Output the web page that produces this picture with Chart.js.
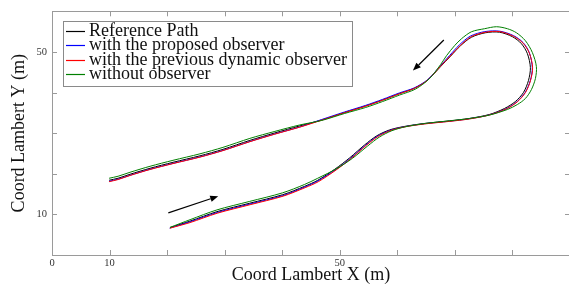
<!DOCTYPE html>
<html><head><meta charset="utf-8">
<script src="https://cdn.jsdelivr.net/npm/chart.js@4.4.1/dist/chart.umd.min.js"></script>
<style>html,body{margin:0;padding:0;overflow:hidden;background:#fff;width:569px;height:285px}canvas{display:block}</style>
</head><body><canvas id="c" width="572" height="285"></canvas>
<script>
// ---- data ----
const seriesNames = ['Reference Path', 'with the proposed observer', 'with the previous dynamic observer', 'without observer'];
const seriesColors = ['#000000', '#0000ff', '#ff0000', '#008000'];

const xRef = [20.50,23.97,28.66,34.38,40.10,43.92,46.18,49.12,51.73,54.33,56.41,58.66,61.27,64.74,69.07,72.54,76.01,78.61,80.52,81.91,82.78,83.12,82.60,81.56,80.00,77.75,75.32,72.89,70.98,69.25,67.51,65.26,63.00,60.40,57.45,54.50,50.86,46.87,43.05,38.72,34.38,29.70,25.71,21.02,17.03,13.56,11.48,9.92];
const yRef = [6.75,8.34,10.67,12.76,14.85,16.93,18.40,21.10,23.93,27.12,29.33,30.80,31.66,32.39,33.01,33.62,34.60,36.07,37.79,40.00,42.94,46.13,49.57,52.02,53.74,54.85,54.72,53.62,51.53,48.96,46.38,43.07,41.10,39.75,38.16,36.69,35.09,33.25,31.78,30.06,28.22,26.01,24.42,22.82,21.35,19.88,18.90,18.40];

const xProp = [20.45,23.95,28.70,34.40,40.12,43.95,46.22,49.30,51.90,54.50,56.55,58.80,61.30,64.75,69.10,72.55,76.05,78.90,80.80,82.20,83.10,83.45,82.95,81.85,80.20,77.80,75.20,72.70,70.80,69.10,67.40,65.20,62.95,60.35,57.40,54.45,50.80,46.85,43.05,38.70,34.40,29.70,25.70,21.00,17.00,13.55,11.45,9.90];
const yProp = [6.62,8.15,10.45,12.55,14.62,16.75,18.25,21.00,23.85,27.05,29.25,30.72,31.60,32.33,32.95,33.55,34.52,36.00,37.75,40.00,42.95,46.10,49.75,52.30,54.00,55.10,55.00,53.90,51.75,49.15,46.45,43.10,41.15,39.90,38.30,36.82,35.20,33.35,31.52,29.80,27.95,25.75,24.15,22.55,21.10,19.62,18.65,18.15];

const xPrev = [20.48,23.98,28.70,34.42,40.15,43.98,46.28,49.38,52.00,54.60,56.68,58.90,61.30,64.78,69.10,72.55,76.05,78.98,80.88,82.28,83.15,83.50,82.95,81.85,80.15,77.80,75.30,72.85,70.95,69.20,67.45,65.25,63.00,60.40,57.45,54.50,50.86,46.87,43.05,38.72,34.38,29.70,25.71,21.02,17.03,13.56,11.48,9.92];
const yPrev = [6.60,7.98,10.28,12.38,14.48,16.58,18.05,20.95,23.80,27.00,29.20,30.68,31.55,32.27,32.90,33.50,34.50,36.00,37.75,40.05,43.00,46.15,49.65,52.15,53.88,55.00,54.85,53.75,51.60,49.00,46.40,43.05,41.05,39.72,38.12,36.65,35.05,33.20,31.48,29.75,27.90,25.70,24.10,22.50,21.05,19.58,18.58,18.05];

const xNo = [20.50,24.00,28.65,34.35,40.05,43.85,46.10,49.50,52.20,54.85,56.90,59.05,61.50,64.90,69.10,72.50,76.00,79.13,80.87,82.25,83.30,83.99,84.16,83.47,82.25,80.69,79.13,77.22,75.14,72.89,71.15,69.94,68.55,67.51,65.60,63.17,60.40,57.45,54.50,50.86,46.87,43.05,38.72,34.38,29.70,25.71,21.02,17.03,13.56,11.48,9.92];
const yNo = [6.80,8.70,11.10,13.20,15.30,17.35,18.85,21.30,23.80,26.85,29.05,30.60,31.60,32.40,33.05,33.60,34.45,35.83,37.06,38.53,40.74,43.44,46.38,49.82,52.76,54.72,55.71,56.20,55.71,54.97,53.25,51.53,49.08,46.87,43.44,40.86,39.39,37.79,36.32,34.85,33.13,32.02,30.43,28.71,26.50,24.91,23.31,21.84,20.37,19.39,18.90];

const xLabelledTicks = [0, 10, 50];
const yLabelledTicks = [10, 50];
const arrowStartX = [20.21, 68.08], arrowStartY = [10.38, 52.93];
const arrowEndX = [28.88, 62.71], arrowEndY = [14.48, 45.40];

// ---- build ----
const xs = [xRef, xProp, xPrev, xNo], ys = [yRef, yProp, yPrev, yNo];
const datasets = seriesNames.map((name, i) => ({
  label: name,
  data: xs[i].map((x, k) => ({x: x, y: ys[i][k]})),
  showLine: true, borderColor: seriesColors[i], backgroundColor: seriesColors[i],
  borderWidth: 1, pointRadius: 0, tension: 0.3, order: 4 - i
}));

const FONT = "'Liberation Serif', serif";
const TEXT_SIZE = 18;

const framePlugin = {
  id: 'frame',
  afterDatasetsDraw(chart) {
    const {ctx, chartArea: a, scales: {x, y}} = chart;
    ctx.save();
    // arrows
    ctx.strokeStyle = '#000'; ctx.fillStyle = '#000'; ctx.lineWidth = 1.2;
    for (let i = 0; i < arrowStartX.length; i++) {
      const x0 = x.getPixelForValue(arrowStartX[i]), y0 = y.getPixelForValue(arrowStartY[i]);
      const x1 = x.getPixelForValue(arrowEndX[i]), y1 = y.getPixelForValue(arrowEndY[i]);
      const ang = Math.atan2(y1 - y0, x1 - x0), L = 8, W = 3.2;
      const bx = x1 - L * Math.cos(ang), by = y1 - L * Math.sin(ang);
      ctx.beginPath(); ctx.moveTo(x0, y0); ctx.lineTo(bx, by); ctx.stroke();
      ctx.beginPath(); ctx.moveTo(x1, y1);
      ctx.lineTo(bx + W * Math.sin(ang), by - W * Math.cos(ang));
      ctx.lineTo(bx - W * Math.sin(ang), by + W * Math.cos(ang));
      ctx.closePath(); ctx.fill();
    }
    // frame
    ctx.strokeStyle = '#9a9a9a'; ctx.lineWidth = 1;
    ctx.strokeRect(Math.round(a.left) + 0.5, Math.round(a.top) + 0.5, Math.round(a.right - a.left), Math.round(a.bottom - a.top));
    ctx.beginPath();
    for (let v = x.min; v <= x.max; v += 10) {
      const px = Math.round(x.getPixelForValue(v)) + 0.5;
      ctx.moveTo(px, a.bottom); ctx.lineTo(px, a.bottom - 5);
      ctx.moveTo(px, a.top); ctx.lineTo(px, a.top + 5);
    }
    for (let v = y.min; v <= y.max; v += 10) {
      const py = Math.round(y.getPixelForValue(v)) + 0.5;
      ctx.moveTo(a.left, py); ctx.lineTo(a.left + 5, py);
      ctx.moveTo(a.right, py); ctx.lineTo(a.right - 5, py);
    }
    ctx.stroke();
    // legend
    const lx = a.left + 11, ly = a.top + 10, rowH = 14.5;
    ctx.font = TEXT_SIZE + "px " + FONT;
    let maxW = 0;
    chart.data.datasets.forEach(d => { maxW = Math.max(maxW, ctx.measureText(d.label).width); });
    const bw = 26 + maxW + 5, bh = rowH * chart.data.datasets.length + 7;
    ctx.fillStyle = '#fff'; ctx.fillRect(lx, ly, bw, bh);
    ctx.strokeStyle = '#8a8a8a'; ctx.lineWidth = 1;
    ctx.strokeRect(Math.round(lx) + 0.5, Math.round(ly) + 0.5, Math.round(bw), Math.round(bh));
    ctx.textBaseline = 'middle'; ctx.textAlign = 'left';
    chart.data.datasets.forEach((d, i) => {
      const cy = ly + 9.5 + i * rowH;
      ctx.strokeStyle = d.borderColor; ctx.lineWidth = 1.2;
      ctx.beginPath(); ctx.moveTo(lx + 3, Math.round(cy) + 0.5); ctx.lineTo(lx + 22, Math.round(cy) + 0.5); ctx.stroke();
      ctx.fillStyle = '#111'; ctx.fillText(d.label, lx + 26, cy);
    });
    ctx.restore();
  }
};

new Chart(document.getElementById('c'), {
  type: 'scatter',
  data: {datasets},
  options: {
    responsive: false, animation: false, devicePixelRatio: 1,
    layout: {padding: {left: 0, right: 2, top: 10, bottom: 0}},
    plugins: {legend: {display: false}, tooltip: {enabled: false}},
    scales: {
      x: {
        type: 'linear', min: 0, max: 90,
        grid: {display: false, drawTicks: false}, border: {display: false},
        ticks: {stepSize: 10, padding: 2, autoSkip: false, maxRotation: 0, color: '#333', font: {family: FONT, size: 10.5},
          callback: v => xLabelledTicks.includes(v) ? String(v) : ''},
        title: {display: true, text: 'Coord Lambert X (m)', color: '#111', font: {family: FONT, size: TEXT_SIZE, lineHeight: 1}, padding: {top: 0, bottom: 1}},
        afterFit: s => { s.height = 30; }
      },
      y: {
        type: 'linear', min: 0, max: 60,
        grid: {display: false, drawTicks: false}, border: {display: false},
        ticks: {stepSize: 10, padding: 5, autoSkip: false, color: '#333', font: {family: FONT, size: 10.5},
          callback: v => yLabelledTicks.includes(v) ? String(v) : ''},
        title: {display: true, text: 'Coord Lambert Y (m)', color: '#111', font: {family: FONT, size: TEXT_SIZE, lineHeight: 1}, padding: {top: 10, bottom: 0}},
        afterFit: s => { s.width = 52; }
      }
    }
  },
  plugins: [framePlugin]
});
</script>
</body></html>
